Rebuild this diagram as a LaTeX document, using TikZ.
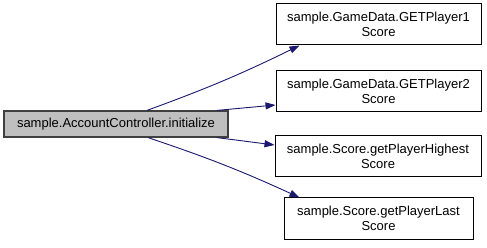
\documentclass[tikz,border=0pt]{standalone}
\usepackage{fontspec}
\setmainfont{Liberation Sans}
\usetikzlibrary{arrows.meta,calc}
\definecolor{edgeblue}{HTML}{191970}
\definecolor{curfill}{HTML}{BFBFBF}
\definecolor{curdraw}{HTML}{404040}
\begin{document}
\begin{tikzpicture}[x=1pt,y=-1pt,
  every node/.style={font=\fontsize{13}{15}\selectfont, align=center, inner sep=0pt},
  fnbox/.style={draw=black, fill=white, line width=1pt, minimum width=205pt, minimum height=41pt},
  curbox/.style={draw=curdraw, fill=curfill, line width=1.2pt, minimum width=224pt, minimum height=26pt},
  call/.style={draw=edgeblue, line width=0.9pt, -{Triangle[length=10pt,width=7pt]}}]
  \useasboundingbox (0,0) rectangle (487,248);

  \node[curbox] (main) at (116,124) {sample.AccountController.initialize};
  \node[fnbox] (g1) at (378.5,24.5) {sample.GameData.GETPlayer1\\Score};
  \node[fnbox] (g2) at (378.5,91) {sample.GameData.GETPlayer2\\Score};
  \node[fnbox, minimum width=206pt] (hs) at (378,156.5) {sample.Score.getPlayerHighest\\Score};
  \node[fnbox, minimum width=189pt] (ls) at (378.5,218.5) {sample.Score.getPlayerLast\\Score};

  \draw[call] ($(main.north)+(31,0)$) to[bend right=3] ($(g1.south west)+(24,0)$);
  \draw[call] ($(main.north)+(101,0)$) -- ($(g2.west)+(0,14)$);
  \draw[call] ($(main.south)+(101,0)$) -- ($(hs.west)+(0,-11.5)$);
  \draw[call] ($(main.south)+(32,0)$) to[bend left=3] ($(ls.north west)+(16,0)$);
\end{tikzpicture}
\end{document}
